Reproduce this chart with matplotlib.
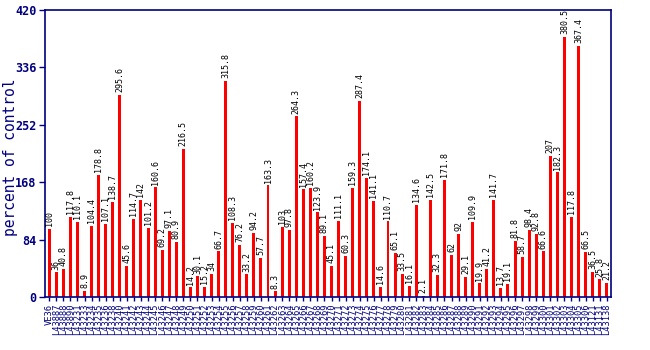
import matplotlib
matplotlib.use("Agg")
import matplotlib.pyplot as plt
import numpy as np

NAVY = "#000080"

values = [100, 36, 40.8, 117.8, 110.1, 8.9, 104.4, 178.8, 107.1, 138.7,
          295.6, 45.6, 114.7, 142, 101.2, 160.6, 69.2, 97.1, 80.9, 216.5,
          14.2, 30.1, 15.2, 34, 66.7, 315.8, 108.3, 76.2, 33.2, 94.2,
          57.7, 163.3, 8.3, 103, 97.8, 264.3, 157.4, 160.2, 123.9, 89.1,
          45.1, 111.1, 60.3, 159.3, 287.4, 174.1, 141.1, 14.6, 110.7, 65.1,
          33.5, 16.1, 134.6, 2.1, 142.5, 32.3, 171.8, 62, 92, 29.1,
          109.9, 19.9, 41.2, 141.7, 13.7, 19.1, 81.8, 58.7, 98.4, 92.8,
          66.6, 207, 182.3, 380.5, 117.8, 367.4, 66.5, 36.5, 25.8, 21.2]

labels = ["VE36", "L43887", "L43888", "L43890", "L43231", "L43233", "L43234", "L43235",
          "L43236", "L43238", "L43240", "L43241", "L43242", "L43243", "L43244", "L43245",
          "L43246", "L43247", "L43248", "L43249", "L43250", "L43251", "L43252", "L43253",
          "L43254", "L43255", "L43256", "L43257", "L43258", "L43259", "L43260", "L43261",
          "L43262", "L43263", "L43264", "L43265", "L43266", "L43267", "L43268", "L43269",
          "L43270", "L43271", "L43272", "L43273", "L43274", "L43275", "L43276", "L43277",
          "L43278", "L43279", "L43280", "L43281", "L43282", "L43283", "L43284", "L43285",
          "L43286", "L43287", "L43288", "L43289", "L43290", "L43291", "L43292", "L43293",
          "L43294", "L43295", "L43296", "L43297", "L43298", "L43299", "L43300", "L43301",
          "L43302", "L43303", "L43304", "L43305", "L43306", "L43121", "L43131", "L43138"]

yticks = [0, 84, 168, 252, 336, 420]

fig = plt.figure(figsize=(6.5, 3.5), dpi=100)
ax = fig.add_axes([45 / 650, 53 / 350, 566 / 650, 287 / 350])

x = np.arange(len(values))
ax.bar(x, values, width=0.42, color="red", zorder=2)

for xi, v in zip(x, values):
    ax.text(xi, v + 4, f"{v:g}", rotation=90, ha="center", va="bottom",
            fontsize=6, family="DejaVu Sans Mono", color="black")

ax.set_xlim(-0.6, len(values) - 0.4)
ax.set_ylim(0, 420)
ax.set_yticks(yticks)
ax.set_yticklabels([str(t) for t in yticks], fontsize=8.5, fontweight="bold",
                   family="DejaVu Sans Mono", color=NAVY)
ax.set_xticks(x)
ax.set_xticklabels(labels, rotation=90, fontsize=6.3, family="DejaVu Sans Mono",
                   color=NAVY)
ax.tick_params(axis="both", colors=NAVY, length=4, width=1)
ax.tick_params(axis="y", pad=2)
ax.tick_params(axis="x", length=3, pad=2)
for s in ax.spines.values():
    s.set_color(NAVY)
    s.set_linewidth(1.2)

# y label sits in the left margin, centred on the plot area
fig.text(11 / 650, 1 - 157 / 350, "percent of control", rotation=90,
         ha="center", va="center", fontsize=10.5, family="DejaVu Sans Mono",
         color=NAVY)

fig.savefig("out.png", dpi=100)
